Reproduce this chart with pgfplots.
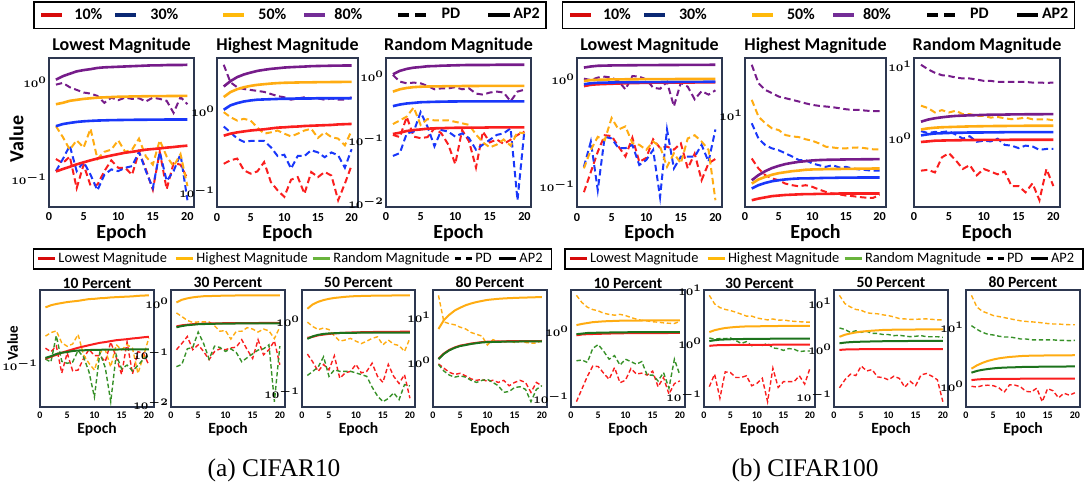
\documentclass[border=0pt]{standalone}
\usepackage{pgfplots}
\pgfplotsset{compat=1.18}
\usepackage{pgfplotstable}
\usepackage{fontspec}
\setmainfont{Carlito}
\newfontfamily\capfont{Liberation Serif}

\definecolor{framec}{RGB}{45,55,80}
\definecolor{pred}{RGB}{250,30,30}
\definecolor{pblue}{RGB}{25,55,250}
\definecolor{porange}{RGB}{255,172,18}
\definecolor{ppurple}{RGB}{118,28,138}
\definecolor{pgreen}{RGB}{28,115,28}
\definecolor{pgreenl}{RGB}{55,145,40}
\definecolor{lred}{RGB}{215,10,10}
\definecolor{lblue}{RGB}{10,40,115}
\definecolor{lorange}{RGB}{255,185,10}
\definecolor{lpurple}{RGB}{115,45,150}
\definecolor{lgreen}{RGB}{105,180,60}

% CIFAR10
\pgfplotstableread{
e L10p L10a L30p L30a L50p L50a L80p L80a H10p H10a H30p H30a H50p H50a H80p H80a R10p R10a R30p R30a R50p R50a R80p R80a
1 0.16 0.119 0.12 0.350 0.35 0.590 0.94 1.06 0.224 0.500 0.65 1.05 0.98 1.51 3.8 2.04 0.118 0.122 0.055 0.336 0.175 0.570 1.04 1.07
2 0.145 0.126 0.16 0.368 0.27 0.610 0.98 1.15 0.247 0.530 0.55 1.19 0.85 1.74 2.3 2.38 0.109 0.128 0.061 0.356 0.20 0.620 0.82 1.21
3 0.17 0.133 0.22 0.378 0.20 0.640 0.885 1.22 0.26 0.550 0.46 1.27 0.77 1.89 2.0 2.67 0.227 0.136 0.125 0.370 0.23 0.650 0.77 1.30
4 0.08 0.141 0.12 0.387 0.25 0.655 0.83 1.29 0.186 0.565 0.42 1.33 0.81 2.00 1.9 2.88 0.111 0.141 0.133 0.378 0.32 0.670 0.79 1.36
5 0.14 0.148 0.15 0.393 0.21 0.670 0.78 1.33 0.169 0.580 0.43 1.37 0.77 2.08 1.85 3.04 0.105 0.144 0.27 0.387 0.17 0.680 0.77 1.39
6 0.085 0.155 0.11 0.397 0.33 0.680 0.76 1.36 0.18 0.590 0.43 1.40 0.63 2.14 1.8 3.19 0.109 0.148 0.159 0.390 0.21 0.685 0.70 1.43
7 0.087 0.162 0.076 0.400 0.16 0.690 0.72 1.40 0.235 0.600 0.43 1.41 0.53 2.18 1.75 3.29 0.15 0.150 0.078 0.393 0.20 0.690 0.62 1.44
8 0.12 0.168 0.11 0.402 0.19 0.695 0.61 1.42 0.133 0.615 0.36 1.42 0.55 2.22 1.65 3.38 0.125 0.151 0.141 0.395 0.20 0.690 0.64 1.46
9 0.155 0.174 0.125 0.404 0.20 0.700 0.69 1.43 0.105 0.630 0.28 1.43 0.58 2.25 1.55 3.44 0.083 0.152 0.133 0.397 0.20 0.695 0.64 1.47
10 0.13 0.180 0.12 0.405 0.25 0.705 0.65 1.44 0.087 0.635 0.29 1.44 0.53 2.27 1.5 3.51 0.041 0.153 0.111 0.398 0.19 0.695 0.67 1.48
11 0.13 0.186 0.13 0.406 0.19 0.707 0.69 1.45 0.142 0.645 0.195 1.44 0.49 2.28 1.4 3.55 0.141 0.153 0.125 0.399 0.18 0.697 0.62 1.49
12 0.11 0.190 0.135 0.407 0.20 0.710 0.67 1.46 0.153 0.650 0.28 1.45 0.53 2.29 1.45 3.58 0.093 0.154 0.105 0.400 0.17 0.698 0.64 1.50
13 0.19 0.195 0.19 0.408 0.26 0.712 0.68 1.47 0.095 0.660 0.28 1.45 0.58 2.30 1.5 3.61 0.036 0.154 0.069 0.400 0.12 0.699 0.53 1.50
14 0.125 0.200 0.12 0.408 0.17 0.714 0.63 1.48 0.177 0.665 0.33 1.45 0.61 2.30 1.45 3.65 0.133 0.154 0.083 0.400 0.09 0.700 0.51 1.50
15 0.077 0.203 0.08 0.409 0.14 0.715 0.69 1.49 0.153 0.670 0.31 1.46 0.47 2.31 1.45 3.67 0.09 0.155 0.099 0.400 0.075 0.700 0.55 1.50
16 0.19 0.206 0.19 0.409 0.25 0.716 0.67 1.49 0.177 0.675 0.27 1.46 0.55 2.31 1.4 3.68 0.10 0.155 0.118 0.400 0.083 0.700 0.57 1.51
17 0.078 0.210 0.095 0.410 0.17 0.717 0.64 1.50 0.16 0.680 0.31 1.46 0.48 2.32 1.45 3.70 0.085 0.155 0.125 0.400 0.10 0.700 0.55 1.51
18 0.145 0.213 0.12 0.410 0.135 0.718 0.48 1.50 0.079 0.690 0.285 1.46 0.46 2.32 1.4 3.71 0.099 0.155 0.15 0.400 0.08 0.700 0.40 1.51
19 0.14 0.217 0.18 0.410 0.18 0.719 0.70 1.50 0.127 0.695 0.20 1.46 0.38 2.33 1.4 3.72 0.118 0.155 0.011 0.400 0.13 0.700 0.57 1.51
20 0.10 0.220 0.06 0.410 0.084 0.720 0.59 1.51 0.214 0.700 0.34 1.46 0.58 2.33 1.5 3.72 0.133 0.155 0.141 0.400 0.125 0.700 0.61 1.51
}\cten

% CIFAR10, 80 Percent panel of the lower row
\pgfplotstableread{
e L80p L80a H80p H80a R80p R80a
1 0.91 1.18 31 5.47 0.88 1.16
2 0.73 1.55 7.9 8.66 0.63 1.52
3 0.59 1.87 7.2 11.4 0.51 1.83
4 0.53 2.12 6.8 14.2 0.46 2.08
5 0.56 2.33 6.0 16.4 0.49 2.28
6 0.49 2.45 5.5 18.6 0.46 2.40
7 0.42 2.59 4.57 20.4 0.39 2.54
8 0.39 2.69 4.17 21.9 0.35 2.64
9 0.41 2.79 3.8 23.2 0.39 2.74
10 0.37 2.85 2.4 24.5 0.41 2.79
11 0.39 2.87 3.16 25.2 0.35 2.81
12 0.35 2.89 2.9 25.9 0.295 2.83
13 0.39 2.91 2.74 26.4 0.21 2.85
14 0.295 2.92 3.06 26.8 0.22 2.86
15 0.35 2.93 2.74 27.1 0.27 2.87
16 0.39 2.94 2.9 27.4 0.28 2.88
17 0.35 2.94 2.74 27.6 0.245 2.88
18 0.21 2.94 2.64 27.9 0.13 2.88
19 0.35 2.94 2.64 28.1 0.245 2.88
20 0.295 2.94 3.06 28.3 0.295 2.88
}\ctenb

% CIFAR100
\pgfplotstableread{
e L10p L10a L30p L30a L50p L50a L80p L80a H10p H10a H30p H30a H50p H50a H80p H80a R10p R10a R30p R30a R50p R50a R80p R80a
1 0.088 0.865 0.152 0.900 0.147 0.965 1.015 1.29 3.43 1.23 8.15 1.64 14.5 1.85 34.3 2.01 0.36 0.900 1.27 1.11 2.87 1.34 10.6 1.72
2 0.136 0.890 0.262 0.920 0.219 0.985 0.986 1.32 2.68 1.28 5.6 1.78 9.6 2.05 21.8 2.28 0.37 0.917 1.20 1.15 2.66 1.39 9.2 1.84
3 0.21 0.900 0.092 0.930 0.29 0.990 1.04 1.34 2.28 1.32 4.77 1.88 8.15 2.18 18.5 2.51 0.34 0.937 1.24 1.18 2.31 1.42 8.2 1.92
4 0.30 0.905 0.29 0.933 0.27 0.995 1.06 1.345 2.1 1.36 4.4 1.96 7.2 2.30 17.1 2.71 0.55 0.942 1.23 1.19 2.49 1.44 7.6 1.98
5 0.295 0.910 0.28 0.935 0.435 1.000 1.04 1.35 2.01 1.38 4.2 2.01 6.9 2.39 15.7 2.86 0.63 0.947 1.27 1.20 2.31 1.45 7.4 2.03
6 0.235 0.915 0.227 0.937 0.34 1.000 0.965 1.352 1.85 1.40 3.9 2.05 6.1 2.45 15.1 2.99 0.50 0.950 1.14 1.21 2.44 1.46 7.06 2.07
7 0.19 0.920 0.227 0.939 0.363 1.002 0.805 1.354 1.78 1.41 3.6 2.08 5.9 2.51 14.5 3.08 0.38 0.953 1.0 1.21 2.19 1.47 6.84 2.09
8 0.285 0.923 0.244 0.940 0.253 1.003 1.075 1.356 1.73 1.42 3.3 2.10 5.8 2.55 13.9 3.16 0.43 0.957 1.08 1.22 2.19 1.48 6.84 2.11
9 0.169 0.926 0.158 0.941 0.244 1.004 1.06 1.358 1.78 1.43 3.3 2.105 5.5 2.60 13.3 3.21 0.31 0.959 0.905 1.22 2.07 1.485 6.62 2.12
10 0.184 0.930 0.176 0.942 0.219 1.005 1.0 1.36 1.71 1.43 3.03 2.11 5.3 2.62 12.8 3.27 0.38 0.961 0.937 1.22 2.07 1.49 6.34 2.14
11 0.275 0.931 0.219 0.943 0.262 1.006 0.835 1.361 1.6 1.44 2.91 2.12 4.97 2.63 12.5 3.30 0.35 0.962 0.917 1.225 1.96 1.495 6.34 2.15
12 0.228 0.932 0.079 0.944 0.235 1.006 0.817 1.362 1.51 1.44 2.79 2.13 4.58 2.64 12.3 3.32 0.32 0.963 1.0 1.225 2.0 1.50 6.13 2.16
13 0.235 0.933 0.34 0.945 0.152 1.007 0.944 1.363 1.45 1.44 2.91 2.13 4.5 2.65 12.1 3.33 0.35 0.964 0.82 1.23 1.92 1.50 6.13 2.16
14 0.22 0.934 0.147 0.946 0.203 1.007 0.56 1.364 1.42 1.45 2.75 2.14 4.4 2.65 11.8 3.34 0.22 0.965 0.80 1.23 1.86 1.505 6.13 2.17
15 0.252 0.935 0.189 0.947 0.164 1.008 0.93 1.365 1.38 1.45 2.79 2.14 4.4 2.66 11.5 3.35 0.22 0.966 0.74 1.23 1.9 1.505 6.13 2.17
16 0.147 0.935 0.189 0.948 0.28 1.008 0.853 1.366 1.36 1.45 2.68 2.14 4.47 2.66 11.3 3.36 0.18 0.966 0.80 1.23 1.96 1.51 6.13 2.18
17 0.202 0.936 0.189 0.948 0.30 1.009 0.65 1.367 1.33 1.45 2.62 2.15 4.5 2.67 11.3 3.36 0.24 0.967 0.78 1.23 1.86 1.51 6.0 2.18
18 0.114 0.937 0.244 0.949 0.262 1.009 0.776 1.368 1.31 1.45 2.58 2.15 4.4 2.67 11.1 3.37 0.14 0.967 0.70 1.23 1.86 1.51 6.0 2.18
19 0.164 0.938 0.17 0.950 0.219 1.010 0.72 1.369 1.30 1.45 2.54 2.15 4.3 2.68 11.0 3.37 0.38 0.967 0.72 1.23 1.86 1.51 5.94 2.19
20 0.18 0.940 0.34 0.950 0.074 1.010 0.79 1.37 1.40 1.45 2.54 2.15 4.3 2.68 11.0 3.38 0.22 0.967 0.72 1.23 1.8 1.51 6.0 2.19
}\chun

\tikzset{
 pdt/.style={line width=1pt, dash pattern=on 3.2pt off 1.8pt},
 apt/.style={line width=1.3pt},
 pdb/.style={line width=0.7pt, dash pattern=on 2.2pt off 1.3pt},
 apb/.style={line width=1pt},
}

\pgfplotsset{
 toprow/.style={scale only axis, xmin=0, xmax=20.95, enlarge y limits=0.05,
   axis line style={framec, line width=0.9pt}, major tick length=0pt, minor tick length=0pt,
   xtick={0,5,10,15,20}, xticklabels={0,5,10,15,20},
   ytick={0.001,0.01,0.1,1,10,100}, height=74.5pt,
   xticklabel style={font=\bfseries\fontsize{6.1}{7}\selectfont, anchor=base, yshift=-7pt},
   yticklabel style={font=\fontsize{5}{6}\selectfont\boldmath, inner sep=0.8pt},
   every axis title/.style={at={(0.5,1)}, anchor=base, yshift=3.65pt, font=\bfseries\fontsize{9}{10}\selectfont},
   xlabel={Epoch}, xlabel style={at={(axis description cs:0.5,0)}, anchor=base, yshift=-15.65pt, font=\bfseries\fontsize{10}{12}\selectfont}},
 botrow/.style={scale only axis, xmin=0, xmax=20.95, enlarge y limits=0.05,
   axis line style={framec, line width=0.9pt}, major tick length=0pt, minor tick length=0pt,
   xtick={0,5,10,15,20}, xticklabels={0,5,10,15,20},
   ytick={0.001,0.01,0.1,1,10,100}, height=58.5pt,
   xticklabel style={font=\bfseries\fontsize{5}{6}\selectfont, anchor=base, yshift=-5.5pt},
   yticklabel style={font=\fontsize{4.3}{5}\selectfont\boldmath, inner sep=0.8pt},
   every axis title/.style={at={(0.5,1)}, anchor=base, yshift=1pt, font=\bfseries\fontsize{7.8}{9}\selectfont},
   xlabel={Epoch}, xlabel style={at={(axis description cs:0.5,0)}, anchor=base, yshift=-13pt, font=\bfseries\fontsize{7.8}{9}\selectfont}},
 leglineT/.style={legend image code/.code={\draw[##1] (0pt,0pt) -- (10.5pt,0pt);}},
 legdashT/.style={legend image code/.code={\draw[##1] (0pt,0pt) -- (14pt,0pt);}},
 leglineB/.style={legend image code/.code={\draw[##1] (0pt,0pt) -- (8.5pt,0pt);}},
 legtop/.style={hide axis, scale only axis, width=1pt, height=1pt, xmin=0, xmax=1, ymin=0, ymax=1, anchor=center,
   legend columns=6, leglineT,
   legend style={at={(0.5,0.5)}, anchor=center, draw=black, line width=0.7pt, inner xsep=2.75pt, inner ysep=3pt,
     column sep=0pt, font=\bfseries\fontsize{8}{9}\selectfont, nodes={inner sep=0pt}}},
 legbot/.style={hide axis, scale only axis, width=1pt, height=1pt, xmin=0, xmax=1, ymin=0, ymax=1, anchor=center,
   legend columns=5, leglineB,
   legend style={at={(0.5,0.5)}, anchor=center, draw=black, line width=0.7pt, inner xsep=1.5pt, inner ysep=1.8pt,
     column sep=0pt, font=\fontsize{7.2}{8.5}\selectfont, nodes={inner sep=0pt}}},
}

\newcommand{\methodplots}[2]{%
 \addplot[pdt,pred] table[x=e,y=#210p]{#1};
 \addplot[pdt,pblue] table[x=e,y=#230p]{#1};
 \addplot[pdt,porange] table[x=e,y=#250p]{#1};
 \addplot[pdt,ppurple] table[x=e,y=#280p]{#1};
 \addplot[apt,pred] table[x=e,y=#210a]{#1};
 \addplot[apt,pblue] table[x=e,y=#230a]{#1};
 \addplot[apt,porange] table[x=e,y=#250a]{#1};
 \addplot[apt,ppurple] table[x=e,y=#280a]{#1};
}
\newcommand{\pctplots}[2]{%
 \addplot[pdb,pred] table[x=e,y=L#2p]{#1};
 \addplot[pdb,porange] table[x=e,y=H#2p]{#1};
 \addplot[pdb,pgreenl] table[x=e,y=R#2p]{#1};
 \addplot[apb,pred] table[x=e,y=L#2a]{#1};
 \addplot[apb,porange] table[x=e,y=H#2a]{#1};
 \addplot[apb,pgreen] table[x=e,y=R#2a]{#1};
}
\newcommand{\toplegend}{%
 \addlegendimage{lred, line width=2pt}\addlegendentry{\makebox[24.5pt][l]{\hspace{5pt}10\%}}
 \addlegendimage{lblue, line width=2pt}\addlegendentry{\makebox[41.5pt][l]{\hspace{6pt}30\%}}
 \addlegendimage{lorange, line width=2pt}\addlegendentry{\makebox[28pt][l]{\hspace{6pt}50\%}}
 \addlegendimage{lpurple, line width=2pt}\addlegendentry{\makebox[34.5pt][l]{\hspace{3.5pt}80\%}}
 \addlegendimage{legdashT, black, line width=2pt, dash pattern=on 5.5pt off 3pt}\addlegendentry{\makebox[29pt][l]{\hspace{6.5pt}PD}}
 \addlegendimage{black, line width=2pt}\addlegendentry{\makebox[14.5pt][l]{\hspace{1pt}AP2}}
}
\newcommand{\botlegend}{%
 \addlegendimage{lred, line width=1.5pt}\addlegendentry{\makebox[59pt][l]{\hspace{1pt}Lowest Magnitude}}
 \addlegendimage{lorange, line width=1.5pt}\addlegendentry{\makebox[58.5pt][l]{\hspace{1pt}Highest Magnitude}}
 \addlegendimage{lgreen, line width=1.5pt}\addlegendentry{\makebox[61pt][l]{\hspace{1pt}Random Magnitude}}
 \addlegendimage{black, line width=1.5pt, dash pattern=on 3pt off 2.5pt}\addlegendentry{\makebox[12pt][l]{\hspace{1pt}PD}}
 \addlegendimage{black, line width=1.5pt}\addlegendentry{\makebox[15.5pt][l]{\hspace{1pt}AP2}}
}

\begin{document}
\begin{tikzpicture}
\useasboundingbox (0,0) rectangle (542.5pt,-245.5pt);

% ---------- legends ----------
\begin{axis}[legtop, at={(145pt,-7.6pt)}]\toplegend\end{axis}
\begin{axis}[legtop, at={(409.25pt,-7.6pt)}]\toplegend\end{axis}
\begin{axis}[legbot, at={(146.25pt,-129.5pt)}]\botlegend\end{axis}
\begin{axis}[legbot, at={(412pt,-129.5pt)}]\botlegend\end{axis}

% ---------- CIFAR10 top ----------
\begin{axis}[ymode=log, toprow, at={(24.5pt,-29pt)}, anchor=north west, width=72.5pt, title={Lowest Magnitude},
  ylabel={Value}, ylabel style={at={(axis description cs:-0.177,0.456)}, anchor=base, font=\bfseries\fontsize{10}{12}\selectfont}]
\methodplots{\cten}{L}
\end{axis}
\begin{axis}[ymode=log, toprow, at={(108.5pt,-29pt)}, anchor=north west, width=70.5pt, title={Highest Magnitude}]
\methodplots{\cten}{H}
\end{axis}
\begin{axis}[ymode=log, toprow, at={(193pt,-29pt)}, anchor=north west, width=72.5pt, title={Random Magnitude}]
\methodplots{\cten}{R}
\end{axis}

% ---------- CIFAR100 top ----------
\begin{axis}[ymode=log, toprow, at={(288.5pt,-29pt)}, anchor=north west, width=72.5pt, title={Lowest Magnitude}]
\methodplots{\chun}{L}
\end{axis}
\begin{axis}[ymode=log, toprow, at={(372.5pt,-29pt)}, anchor=north west, width=70.5pt, title={Highest Magnitude}]
\methodplots{\chun}{H}
\end{axis}
\begin{axis}[ymode=log, toprow, at={(457pt,-29pt)}, anchor=north west, width=73pt, title={Random Magnitude}]
\methodplots{\chun}{R}
\end{axis}

% ---------- CIFAR10 bottom ----------
\begin{axis}[ymode=log, botrow, at={(20pt,-145pt)}, anchor=north west, width=57pt, title={10 Percent},
  ylabel={Value}, ylabel style={at={(axis description cs:-0.193,0.547)}, anchor=base, font=\bfseries\fontsize{7.5}{9}\selectfont}]
\pctplots{\cten}{10}
\end{axis}
\begin{axis}[ymode=log, botrow, at={(85.5pt,-145pt)}, anchor=north west, width=57pt, title={30 Percent}]
\pctplots{\cten}{30}
\end{axis}
\begin{axis}[ymode=log, botrow, at={(151pt,-145pt)}, anchor=north west, width=56.5pt, title={50 Percent}]
\pctplots{\cten}{50}
\end{axis}
\begin{axis}[ymode=log, botrow, at={(216.5pt,-145pt)}, anchor=north west, width=57pt, title={80 Percent}, ytick={1,10}]
\pctplots{\ctenb}{80}
\end{axis}

% ---------- CIFAR100 bottom ----------
\begin{axis}[ymode=log, botrow, at={(285.5pt,-145pt)}, anchor=north west, width=57pt, title={10 Percent}]
\pctplots{\chun}{10}
\end{axis}
\begin{axis}[ymode=log, botrow, at={(352pt,-145pt)}, anchor=north west, width=55.5pt, title={30 Percent}]
\pctplots{\chun}{30}
\end{axis}
\begin{axis}[ymode=log, botrow, at={(417pt,-145pt)}, anchor=north west, width=57pt, title={50 Percent}]
\pctplots{\chun}{50}
\end{axis}
\begin{axis}[ymode=log, botrow, at={(483pt,-145pt)}, anchor=north west, width=57pt, title={80 Percent}]
\pctplots{\chun}{80}
\end{axis}

\node[font=\capfont\fontsize{12.7}{15}\selectfont] at (137pt,-235pt) {(a) CIFAR10};
\node[font=\capfont\fontsize{12.7}{15}\selectfont] at (402.5pt,-235pt) {(b) CIFAR100};
\end{tikzpicture}
\end{document}
